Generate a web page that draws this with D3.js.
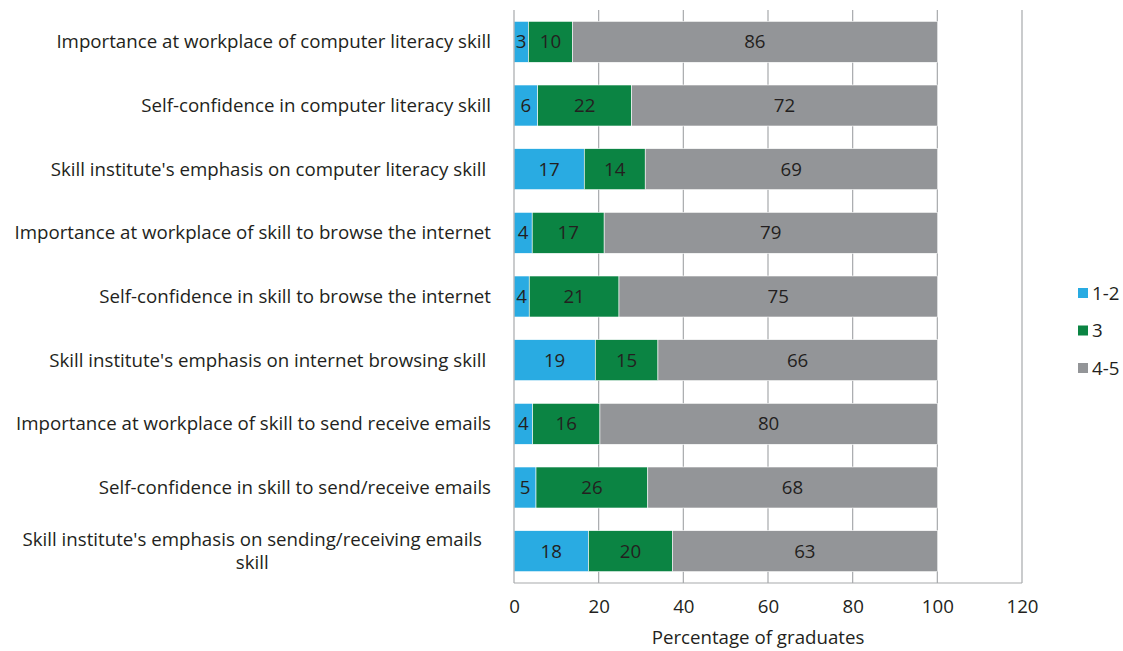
<!DOCTYPE html>
<html><head><meta charset="utf-8">
<script src="https://cdn.jsdelivr.net/npm/d3@7"></script>
<style>
html,body{margin:0;padding:0;background:#fff;}
text{font-family:"Open Sans","Noto Sans",sans-serif;fill:#231f20;}
</style></head>
<body><svg id="chart" width="1123" height="651"></svg>
<script>
const categories = [
  "Importance at workplace of computer literacy skill",
  "Self-confidence in computer literacy skill",
  "Skill institute's emphasis on computer literacy skill ",
  "Importance at workplace of skill to browse the internet",
  "Self-confidence in skill to browse the internet",
  "Skill institute's emphasis on internet browsing skill ",
  "Importance at workplace of skill to send receive emails",
  "Self-confidence in skill to send/receive emails",
  "Skill institute's emphasis on sending/receiving emails skill"
];
const seriesNames = ["1-2", "3", "4-5"];
const low  = [3.4, 5.6, 16.6, 4.3, 3.6, 19.2, 4.4, 5.2, 17.6];
const mid  = [10.4, 22.2, 14.4, 17.0, 21.2, 14.8, 15.9, 26.4, 19.8];
const high = [86.2, 72.2, 69.0, 78.7, 75.2, 66.0, 79.7, 68.4, 62.6];
const xTicks = [0, 20, 40, 60, 80, 100, 120];
const colors = ["#29abe2", "#0b8443", "#939598"];

const FS = 18.7;
const svg = d3.select("#chart");
const m = {left: 514, right: 1022, top: 10, bottom: 583};
const x = d3.scaleLinear().domain([0, 120]).range([m.left, m.right]);
const y = d3.scaleBand().domain(categories).range([m.top, m.bottom]).paddingInner(0.356).paddingOuter(0.178);

const data = categories.map((c, i) => ({cat: c, "1-2": low[i], "3": mid[i], "4-5": high[i]}));
const stack = d3.stack().keys(seriesNames)(data);

// gridlines
svg.append("g").selectAll("line").data(xTicks.slice(1)).join("line")
  .attr("x1", d => x(d)).attr("x2", d => x(d))
  .attr("y1", m.top).attr("y2", m.bottom)
  .attr("stroke", "#a7a9ac").attr("stroke-width", 1.2);

// bars
const g = svg.append("g");
stack.forEach((s, si) => {
  g.append("g").selectAll("rect").data(s).join("rect")
    .attr("x", d => x(d[0])).attr("width", d => x(d[1]) - x(d[0]))
    .attr("y", d => y(d.data.cat)).attr("height", y.bandwidth())
    .attr("fill", colors[si]).attr("stroke", "#fff").attr("stroke-width", 0.6);
  g.append("g").selectAll("text").data(s).join("text")
    .attr("x", d => (x(d[0]) + x(d[1])) / 2)
    .attr("y", d => y(d.data.cat) + y.bandwidth() / 2)
    .attr("text-anchor", "middle").attr("dy", "0.35em")
    .attr("font-size", FS)
    .text(d => Math.round(d[1] - d[0]));
});

// axis lines
svg.append("line").attr("x1", m.left).attr("x2", m.left).attr("y1", m.top).attr("y2", m.bottom)
  .attr("stroke", "#a7a9ac").attr("stroke-width", 1.2);
svg.append("line").attr("x1", m.left).attr("x2", m.right).attr("y1", m.bottom).attr("y2", m.bottom)
  .attr("stroke", "#a7a9ac").attr("stroke-width", 1.2);

// x tick labels
const xAxis = svg.append("g").attr("transform", `translate(0,${m.bottom})`)
  .call(d3.axisBottom(x).tickValues(xTicks).tickSize(0).tickPadding(17));
xAxis.select(".domain").remove();
xAxis.selectAll("text").attr("font-size", FS).attr("fill", "#231f20")
  .style("font-family", '"Open Sans","Noto Sans",sans-serif');

svg.append("text").attr("x", 758).attr("y", 637).attr("dy", "0.35em")
  .attr("text-anchor", "middle").attr("font-size", FS).text("Percentage of graduates");

// category labels
const labG = svg.append("g");
categories.forEach(c => {
  const cy = y(c) + y.bandwidth() / 2;
  const t = labG.append("text").attr("font-size", FS).style("white-space", "pre")
    .attr("text-anchor", "end").attr("x", 491).attr("y", cy).attr("dy", "0.35em").text(c);
  if (t.node().getComputedTextLength() > 490) {
    const words = c.trim().split(" ");
    const lines = [];
    let cur = [];
    const tmp = labG.append("text").attr("font-size", FS);
    words.forEach(w => {
      tmp.text([...cur, w].join(" "));
      if (tmp.node().getComputedTextLength() > 480 && cur.length) { lines.push(cur.join(" ")); cur = [w]; }
      else cur.push(w);
    });
    lines.push(cur.join(" "));
    tmp.text(lines[0]);
    const w0 = tmp.node().getComputedTextLength(); tmp.remove();
    const cx = 482 - w0 / 2;
    t.text("").attr("text-anchor", "middle").attr("x", cx).attr("dy", null);
    const lh = 23;
    lines.forEach((l, i) => {
      t.append("tspan").attr("x", cx).attr("y", cy + (i - (lines.length - 1) / 2) * lh).attr("dy", "0.35em").text(l);
    });
  }
});

// legend
const leg = svg.append("g");
seriesNames.forEach((s, i) => {
  const ly = 293 + i * 37.5;
  leg.append("rect").attr("x", 1078).attr("y", ly - 5).attr("width", 10).attr("height", 10).attr("fill", colors[i]);
  leg.append("text").attr("x", 1092).attr("y", ly).attr("dy", "0.35em").attr("font-size", FS).text(s);
});
</script></body></html>
